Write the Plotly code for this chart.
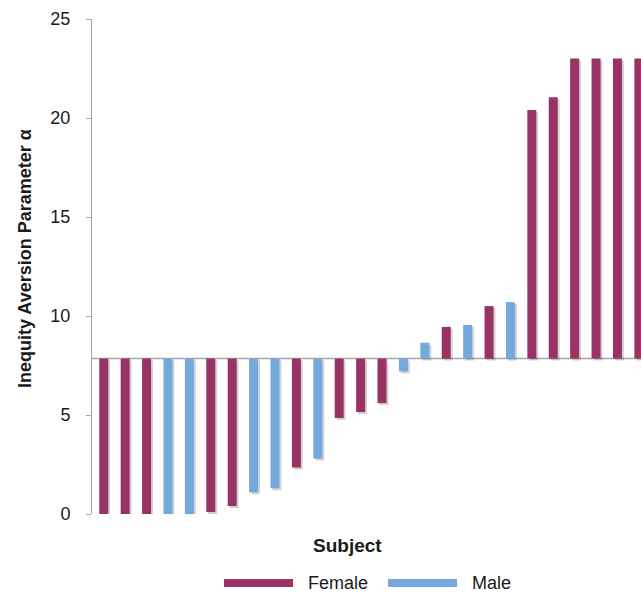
import plotly.graph_objects as go

# ---- data ----
subjects = list(range(1, 27))
gender = ["Female", "Female", "Female", "Male", "Male", "Female", "Female", "Male", "Male",
          "Female", "Male", "Female", "Female", "Female", "Male", "Male", "Female", "Male",
          "Female", "Male", "Female", "Female", "Female", "Female", "Female", "Female"]
alpha = [0.0, 0.0, 0.0, 0.0, 0.0, 0.1, 0.4, 1.1, 1.3, 2.35, 2.8, 4.85, 5.15, 5.6, 7.2,
         8.65, 9.45, 9.55, 10.5, 10.7, 20.4, 21.05, 23.0, 23.0, 23.0, 23.0]
baseline = 7.85
y_ticks = [0, 5, 10, 15, 20, 25]

colors = {"Female": "#993366", "Male": "#74A9DE"}

W, H = 641, 593
left, right, top, bottom = 92, 641, 19, 514
pw, ph = right - left, bottom - top

def px_x(p):
    return (p - left) / pw

def px_y(p):
    return (bottom - p) / ph

fig = go.Figure()

bar_w = 0.42
shadow_dx = 0.09
shadow_dy = 0.1

# soft drop shadows
for g in ["Female", "Male"]:
    xs = [s - 1 for s, gg in zip(subjects, gender) if gg == g]
    vs = [v for v, gg in zip(alpha, gender) if gg == g]
    fig.add_trace(go.Bar(
        x=xs, y=[v - baseline for v in vs], base=baseline - shadow_dy,
        width=bar_w, offset=-bar_w / 2 + shadow_dx,
        marker=dict(color="rgba(0,0,0,0.18)", line=dict(width=0)),
        showlegend=False, hoverinfo="skip"))

for g in ["Female", "Male"]:
    xs = [s - 1 for s, gg in zip(subjects, gender) if gg == g]
    vs = [v for v, gg in zip(alpha, gender) if gg == g]
    fig.add_trace(go.Bar(
        x=xs, y=[v - baseline for v in vs], base=baseline,
        width=bar_w, offset=-bar_w / 2, name=g,
        marker=dict(color=colors[g], line=dict(width=0)),
        showlegend=False))

fig.update_layout(
    width=W, height=H, autosize=False,
    margin=dict(l=left, r=W - right, t=top, b=H - bottom, pad=0),
    barmode="overlay",
    plot_bgcolor="white", paper_bgcolor="white",
    font=dict(family="Liberation Sans, Arial, sans-serif", size=18, color="#1a1a1a"),
    xaxis=dict(range=[-0.55, 25.1], visible=False),
    yaxis=dict(range=[0, 25], tickvals=y_ticks, showgrid=False, zeroline=False,
               showline=True, linecolor="#a6a6a6", linewidth=1,
               ticks="outside", ticklen=5, tickcolor="#a6a6a6",
               ticklabelstandoff=12, tickfont=dict(size=18)),
    shapes=[
        dict(type="line", xref="paper", yref="y", x0=0, x1=1, y0=baseline, y1=baseline,
             line=dict(color="#a6a6a6", width=1.5), layer="below"),
        dict(type="rect", xref="paper", yref="paper",
             x0=px_x(224), x1=px_x(293), y0=px_y(587), y1=px_y(579),
             fillcolor=colors["Female"], line=dict(width=0)),
        dict(type="rect", xref="paper", yref="paper",
             x0=px_x(388), x1=px_x(457), y0=px_y(587), y1=px_y(579),
             fillcolor=colors["Male"], line=dict(width=0)),
    ],
    annotations=[
        dict(text="<b>Inequity Aversion Parameter α</b>", xref="paper", yref="paper",
             x=px_x(25), y=px_y(259), textangle=-90, showarrow=False,
             xanchor="center", yanchor="middle", font=dict(size=18)),
        dict(text="<b>Subject</b>", xref="paper", yref="paper",
             x=px_x(347), y=px_y(545), showarrow=False,
             xanchor="center", yanchor="middle", font=dict(size=19)),
        dict(text="Female", xref="paper", yref="paper",
             x=px_x(306), y=px_y(583), showarrow=False,
             xanchor="left", yanchor="middle", font=dict(size=18)),
        dict(text="Male", xref="paper", yref="paper",
             x=px_x(470), y=px_y(583), showarrow=False,
             xanchor="left", yanchor="middle", font=dict(size=18)),
    ],
)

post = (
    "document.documentElement.style.overflow='hidden';"
    "document.body.style.overflow='hidden';"
    "document.body.style.margin='0';"
    "var gd=document.getElementById('{plot_id}');"
    "gd.style.width='641px';gd.style.height='593px';"
    "Plotly.relayout(gd,{width:641,height:593});"
)

fig.write_html("out.html", config={"responsive": False, "displayModeBar": False},
               post_script=post)
